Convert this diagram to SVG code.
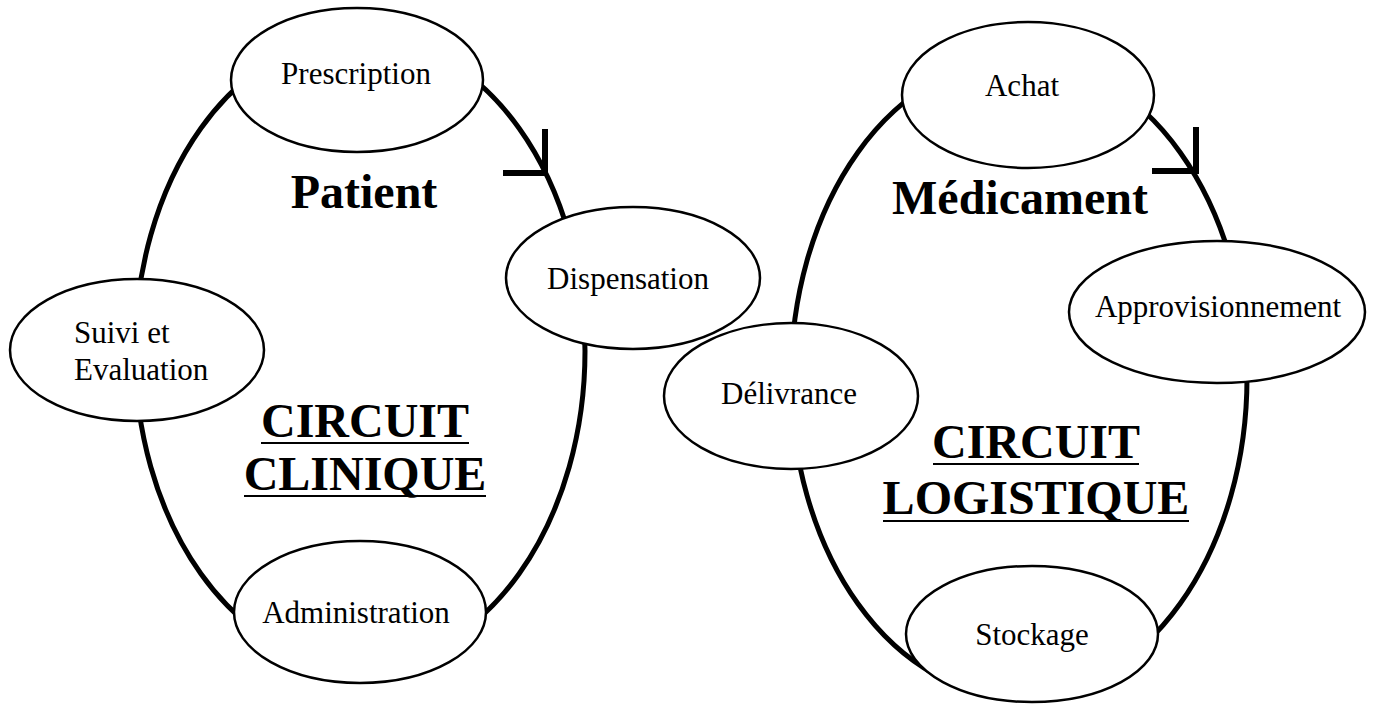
<svg xmlns="http://www.w3.org/2000/svg" width="1375" height="704" viewBox="0 0 1375 704">
  <style>
    .loop { fill: none; stroke: #000; stroke-width: 5; }
    .tick { fill: none; stroke: #000; stroke-width: 6; stroke-linecap: butt; }
    .step { fill: #fff; stroke: #000; stroke-width: 2.5; }
    .lbl { font-family: "Liberation Serif", "Times New Roman", serif; font-size: 31px; fill: #000; text-anchor: middle; }
    .lbl-l { font-family: "Liberation Serif", "Times New Roman", serif; font-size: 31px; fill: #000; }
    .head { font-family: "Liberation Serif", "Times New Roman", serif; font-size: 48px; font-weight: bold; fill: #000; text-anchor: middle; }
    .uline { stroke: #000; stroke-width: 2; }
  </style>
  <rect width="1375" height="704" fill="#fff"/>

  <!-- circuit loops and direction ticks -->
  <g id="connectors">
    <ellipse class="loop" cx="360" cy="351" rx="225" ry="315"/>
    <path class="tick" d="M503 173 H545 V129"/>
    <ellipse class="loop" cx="1019" cy="378" rx="228" ry="319"/>
    <path class="tick" d="M1152 171 H1196 V127"/>
  </g>

  <!-- clinical circuit headings -->
  <g id="clinique-title">
    <text class="head" x="364" y="208">Patient</text>
    <text class="head" x="365" y="437">CIRCUIT</text>
    <line class="uline" x1="261" y1="443" x2="469" y2="443"/>
    <text class="head" x="365" y="490">CLINIQUE</text>
    <line class="uline" x1="244" y1="496" x2="486" y2="496"/>
  </g>

  <!-- logistics circuit headings -->
  <g id="logistique-title">
    <text class="head" x="1020" y="214">Médicament</text>
    <text class="head" x="1036" y="458">CIRCUIT</text>
    <line class="uline" x1="933" y1="464" x2="1139" y2="464"/>
    <text class="head" x="1036" y="514">LOGISTIQUE</text>
    <line class="uline" x1="883" y1="521" x2="1189" y2="521"/>
  </g>

  <!-- clinical circuit steps -->
  <g id="prescription">
    <ellipse class="step" cx="357" cy="80" rx="126" ry="72"/>
    <text class="lbl" x="356" y="84">Prescription</text>
  </g>
  <g id="dispensation">
    <ellipse class="step" cx="633" cy="278" rx="127" ry="71"/>
    <text class="lbl" x="628" y="289">Dispensation</text>
  </g>
  <g id="suivi-evaluation">
    <ellipse class="step" cx="137" cy="350" rx="127" ry="71"/>
    <text class="lbl-l" x="74" y="343">Suivi et</text>
    <text class="lbl-l" x="74" y="380">Evaluation</text>
  </g>
  <g id="administration">
    <ellipse class="step" cx="360" cy="612" rx="126" ry="71"/>
    <text class="lbl" x="356" y="623">Administration</text>
  </g>

  <!-- logistics circuit steps -->
  <g id="achat">
    <ellipse class="step" cx="1028" cy="95" rx="126" ry="73"/>
    <text class="lbl" x="1022" y="96">Achat</text>
  </g>
  <g id="approvisionnement">
    <ellipse class="step" cx="1217" cy="312" rx="148" ry="71"/>
    <text class="lbl" x="1218" y="317">Approvisionnement</text>
  </g>
  <g id="delivrance">
    <ellipse class="step" cx="791" cy="396" rx="127" ry="73"/>
    <text class="lbl" x="789" y="404">Délivrance</text>
  </g>
  <g id="stockage">
    <ellipse class="step" cx="1032" cy="634" rx="126" ry="68"/>
    <text class="lbl" x="1032" y="645">Stockage</text>
  </g>
</svg>
